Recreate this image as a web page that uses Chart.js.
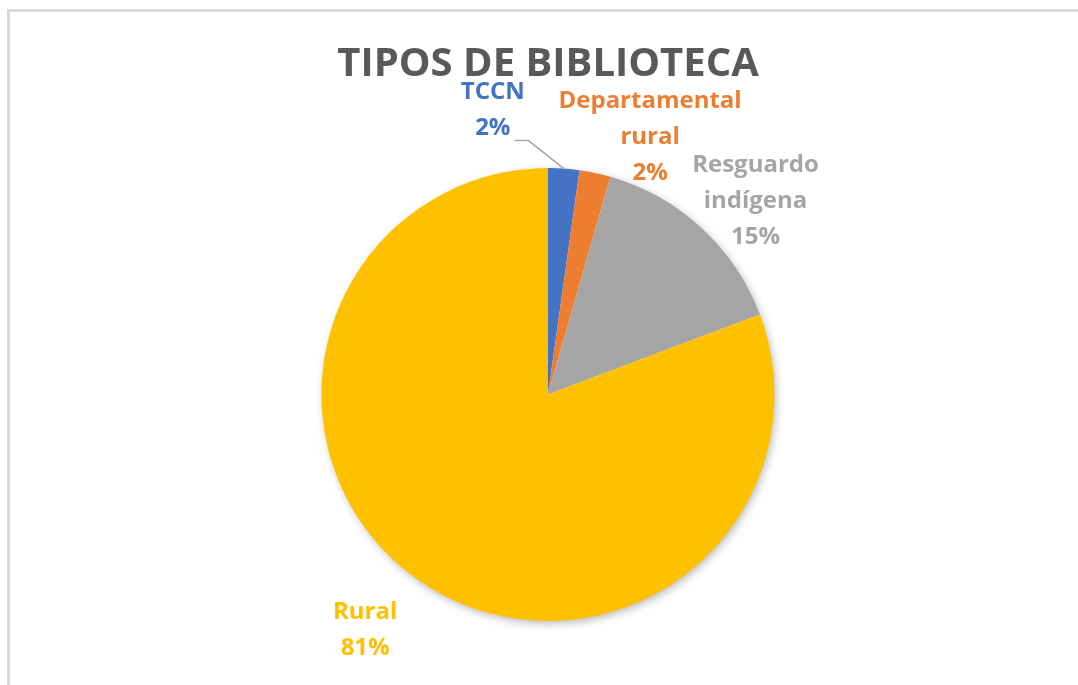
<!DOCTYPE html>
<html>
<head>
<meta charset="utf-8">
<script src="https://cdn.jsdelivr.net/npm/chart.js@4.4.1/dist/chart.umd.min.js"></script>
<style>
    html, body { margin: 0; padding: 0; background: #fff; overflow: hidden; }
    #frame {
        position: absolute; left: 7px; top: 9px;
        width: 1100px; height: 700px;
        border: 3px solid #d9d9d9; box-sizing: border-box;
    }
    #wrap { position: absolute; left: 0; top: 0; width: 1078px; height: 685px; }
</style>
</head>
<body>
<div id="frame"></div>
<div id="wrap"><canvas id="pieChart" width="1078" height="685"></canvas></div>
<script>
// data (counts give 2%, 2%, 15%, 81%)
const categories = ['TCCN', 'Departamental rural', 'Resguardo indígena', 'Rural'];
const counts = [3, 3, 20, 109];
const colors = ['#4472C4', '#ED7D31', '#A5A5A5', '#FFC000'];

// label placement relative to the outer middle point of each slice
const labelOffsets = [
    { dx: -71, dy: -58, leader: true },
    { dx: 55, dy: -36 },
    { dx: 54, dy: -27 },
    { dx: -54, dy: 49 }
];

const LABEL_FONT = 'bold 24px "Open Sans"';
const LINE_GAP = 36;

// one soft shadow under the whole pie, drawn before the slices
const shadowPlugin = {
    id: 'pieShadow',
    beforeDatasetsDraw(chart) {
        const ctx = chart.ctx;
        const arc = chart.getDatasetMeta(0).data[0];
        if (!arc) return;
        const p = arc.getProps(['x', 'y', 'outerRadius'], true);
        ctx.save();
        ctx.shadowColor = 'rgba(0,0,0,0.3)';
        ctx.shadowBlur = 10;
        ctx.shadowOffsetX = 2;
        ctx.shadowOffsetY = 3;
        ctx.fillStyle = '#ffffff';
        ctx.beginPath();
        ctx.arc(p.x, p.y, p.outerRadius - 1, 0, Math.PI * 2);
        ctx.fill();
        ctx.restore();
    }
};

const labelPlugin = {
    id: 'sliceLabels',
    afterDraw(chart) {
        const ctx = chart.ctx;
        const meta = chart.getDatasetMeta(0);
        const total = counts.reduce((a, b) => a + b, 0);
        ctx.save();
        ctx.font = LABEL_FONT;
        ctx.textAlign = 'center';
        ctx.textBaseline = 'middle';
        meta.data.forEach((arc, i) => {
            const p = arc.getProps(['x', 'y', 'startAngle', 'endAngle', 'outerRadius'], true);
            const mid = (p.startAngle + p.endAngle) / 2;
            const ox = p.x + Math.cos(mid) * p.outerRadius;
            const oy = p.y + Math.sin(mid) * p.outerRadius;
            const off = labelOffsets[i];
            const cx = ox + off.dx;
            const cy = oy + off.dy;
            const lines = categories[i].split(' ');
            lines.push(Math.round(counts[i] / total * 100) + '%');
            const y0 = cy - (lines.length - 1) * LINE_GAP / 2;
            ctx.fillStyle = colors[i];
            lines.forEach((t, k) => ctx.fillText(t, cx, y0 + k * LINE_GAP));

            if (off.leader) {
                const last = lines[lines.length - 1];
                const w = ctx.measureText(last).width;
                const sx = cx + w / 2 + 4;
                const sy = y0 + (lines.length - 1) * LINE_GAP + 12;
                ctx.beginPath();
                ctx.strokeStyle = '#a6a6a6';
                ctx.lineWidth = 1.5;
                ctx.moveTo(sx, sy);
                ctx.lineTo(sx + 14, sy);
                ctx.lineTo(ox, oy);
                ctx.stroke();
            }
        });
        ctx.restore();
    }
};

new Chart(document.getElementById('pieChart'), {
    type: 'pie',
    data: {
        labels: categories,
        datasets: [{
            data: counts,
            backgroundColor: colors,
            borderWidth: 0
        }]
    },
    options: {
        responsive: false,
        animation: false,
        events: [],
        layout: {
            padding: { left: 321, right: 303, top: 0, bottom: 64 }
        },
        plugins: {
            legend: { display: false },
            tooltip: { enabled: false },
            title: {
                display: true,
                text: 'TIPOS DE BIBLIOTECA',
                color: '#595959',
                font: { family: '"Open Sans"', size: 40, weight: 'bold' },
                padding: { top: 41, bottom: 79 }
            }
        }
    },
    plugins: [shadowPlugin, labelPlugin]
});
</script>
</body>
</html>
